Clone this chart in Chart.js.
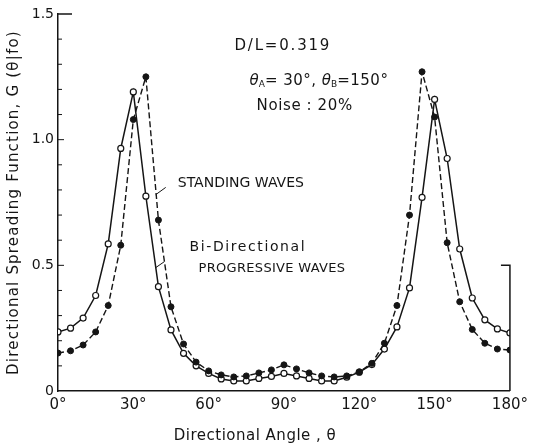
<!DOCTYPE html>
<html>
<head>
<meta charset="utf-8">
<script src="https://cdn.jsdelivr.net/npm/chart.js@4/dist/chart.umd.min.js"></script>
<style>
  html, body { margin: 0; padding: 0; background: #fff; }
</style>
</head>
<body>
<canvas id="chart" width="533" height="444"></canvas>
<script>
// Directional angle (deg), sampled every 5 degrees
const angles = [0, 5, 10, 15, 20, 25, 30, 35, 40, 45, 50, 55, 60, 65, 70, 75, 80, 85, 90,
  95, 100, 105, 110, 115, 120, 125, 130, 135, 140, 145, 150, 155, 160, 165, 170, 175, 180];

// Bi-directional progressive waves (open circles, solid line)
const progressive = [0.235, 0.25, 0.29, 0.38, 0.585, 0.965, 1.19, 0.775, 0.415, 0.243, 0.15,
  0.10, 0.07, 0.048, 0.04, 0.04, 0.05, 0.058, 0.07, 0.06, 0.05, 0.04, 0.04, 0.055, 0.075,
  0.105, 0.167, 0.255, 0.41, 0.77, 1.16, 0.925, 0.565, 0.37, 0.283, 0.247, 0.231];

// Standing waves (filled circles, dashed line)
const standing = [0.151, 0.16, 0.183, 0.235, 0.34, 0.58, 1.08, 1.25, 0.68, 0.335, 0.187,
  0.115, 0.08, 0.064, 0.056, 0.06, 0.072, 0.084, 0.104, 0.088, 0.072, 0.06, 0.056, 0.06, 0.076,
  0.11, 0.19, 0.34, 0.70, 1.27, 1.09, 0.59, 0.355, 0.245, 0.19, 0.167, 0.163];

const xTicks = [0, 30, 60, 90, 120, 150, 180];
const yTicks = [0, 0.5, 1.0, 1.5];
const yMinorTicks = [0.1, 0.2, 0.3, 0.4, 0.6, 0.7, 0.8, 0.9, 1.1, 1.2, 1.3, 1.4];

const INK = "#151515";
const FONT = "'DejaVu Sans', sans-serif";

const toPoints = ys => angles.map((a, i) => ({ x: a, y: ys[i] }));

// extra drawing: inner ticks, partial right axis, notes, leaders, axis titles
const decor = {
  id: "decor",
  afterDatasetsDraw(chart) {
    const { ctx, chartArea: ca } = chart;
    const sx = chart.scales.x, sy = chart.scales.y;
    const px = v => sx.getPixelForValue(v);
    const py = v => sy.getPixelForValue(v);

    ctx.save();
    ctx.strokeStyle = INK;
    ctx.fillStyle = INK;
    ctx.lineWidth = 1;

    // minor ticks pointing inward
    yMinorTicks.forEach(v => {
      ctx.beginPath();
      ctx.moveTo(ca.left, py(v));
      ctx.lineTo(ca.left + 4, py(v));
      ctx.stroke();
    });
    [0.5, 1.0].forEach(v => {
      ctx.beginPath();
      ctx.moveTo(ca.left, py(v));
      ctx.lineTo(ca.left + 6, py(v));
      ctx.stroke();
    });

    // top tick at 1.5
    ctx.lineWidth = 1.5;
    ctx.beginPath();
    ctx.moveTo(ca.left, py(1.5));
    ctx.lineTo(ca.left + 14, py(1.5));
    ctx.stroke();

    // short right axis up to 0.5
    ctx.beginPath();
    ctx.moveTo(px(180) - 9, py(0.5));
    ctx.lineTo(px(180), py(0.5));
    ctx.lineTo(px(180), py(0));
    ctx.stroke();

    // leader lines
    ctx.lineWidth = 1;
    [[38.9, 0.781, 42.9, 0.81], [38.8, 0.49, 42.4, 0.515]].forEach(([x1, y1, x2, y2]) => {
      ctx.beginPath();
      ctx.moveTo(px(x1), py(y1));
      ctx.lineTo(px(x2), py(y2));
      ctx.stroke();
    });

    ctx.textBaseline = "middle";
    ctx.textAlign = "left";
    const text = (str, x, y, size, spacing) => {
      ctx.font = size + "px " + FONT;
      ctx.letterSpacing = (spacing || 0) + "px";
      ctx.fillText(str, x, y);
      return ctx.measureText(str).width;
    };

    text("D/L=0.319", px(70.3), py(1.373), 15, 1.8);

    // theta_A = 30deg, theta_B = 150deg
    let x = px(76.3);
    const yT = py(1.233);
    ctx.font = "italic 15px " + FONT;
    ctx.letterSpacing = "0px";
    ctx.fillText("θ", x, yT); x += ctx.measureText("θ").width;
    x += text("A", x, yT + 4, 9, 0);
    x += text("= 30°, ", x, yT, 15, 0.5);
    ctx.font = "italic 15px " + FONT;
    ctx.letterSpacing = "0px";
    ctx.fillText("θ", x, yT); x += ctx.measureText("θ").width;
    x += text("B", x, yT + 4, 9, 0);
    text("=150°", x, yT, 15, 0.5);

    text("Noise : 20%", px(79.1), py(1.134), 15, 0.6);
    text("STANDING WAVES", px(47.7), py(0.828), 14, 0);
    text("Bi-Directional", px(52.4), py(0.573), 14, 1.6);
    text("PROGRESSIVE WAVES", px(56.0), py(0.485), 13, 0.3);

    // x axis title
    ctx.textAlign = "center";
    ctx.font = "15px " + FONT;
    ctx.letterSpacing = "0.5px";
    ctx.fillText("Directional Angle , θ", 255, 436);

    // y axis title
    ctx.translate(14, (ca.top + ca.bottom) / 2);
    ctx.rotate(-Math.PI / 2);
    ctx.letterSpacing = "1.2px";
    ctx.fillText("Directional Spreading Function, G (θ|fo)", 0, 0);
    ctx.restore();
  }
};

new Chart(document.getElementById("chart"), {
  type: "line",
  data: {
    datasets: [
      {
        label: "STANDING WAVES",
        data: toPoints(standing),
        borderColor: INK,
        borderWidth: 1.4,
        borderDash: [6, 3],
        pointRadius: 3,
        pointBackgroundColor: INK,
        pointBorderColor: INK,
        pointBorderWidth: 1,
        tension: 0
      },
      {
        label: "Bi-Directional PROGRESSIVE WAVES",
        data: toPoints(progressive),
        borderColor: INK,
        borderWidth: 1.5,
        pointRadius: 3,
        pointBackgroundColor: "#fff",
        pointBorderColor: INK,
        pointBorderWidth: 1.2,
        tension: 0
      }
    ]
  },
  options: {
    responsive: false,
    animation: false,
    layout: { padding: { left: 0, top: 14, right: 22, bottom: 0 } },
    plugins: {
      legend: { display: false },
      tooltip: { enabled: false }
    },
    scales: {
      x: {
        type: "linear",
        min: 0,
        max: 180,
        afterBuildTicks: s => { s.ticks = xTicks.map(v => ({ value: v })); },
        afterFit: s => { s.height = 53; },
        grid: { display: false, drawTicks: false },
        border: { display: true, color: INK, width: 1.5 },
        ticks: {
          color: INK,
          padding: 5,
          maxRotation: 0,
          font: { family: FONT, size: 15 },
          callback: v => v + "°"
        }
      },
      y: {
        type: "linear",
        min: 0,
        max: 1.5,
        afterBuildTicks: s => { s.ticks = yTicks.map(v => ({ value: v })); },
        afterFit: s => { s.width = 58; },
        grid: { display: false, drawTicks: false },
        border: { display: true, color: INK, width: 1.5 },
        ticks: {
          color: INK,
          padding: 4,
          font: { family: FONT, size: 14 },
          callback: v => (v === 0 ? "0" : v.toFixed(1))
        }
      }
    }
  },
  plugins: [decor]
});
</script>
</body>
</html>
